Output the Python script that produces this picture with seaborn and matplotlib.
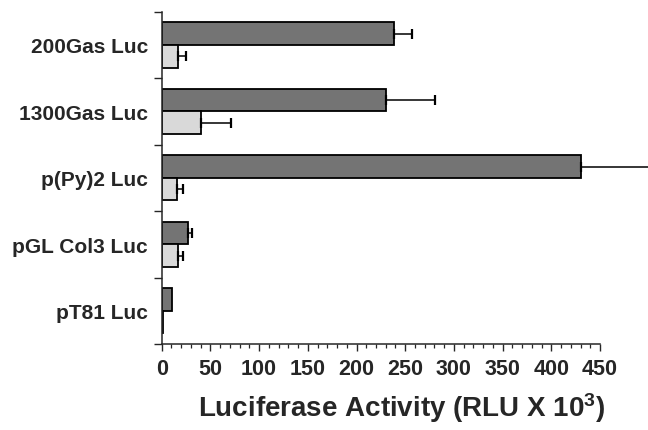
import numpy as np
import pandas as pd
import matplotlib
matplotlib.use("Agg")
import matplotlib.pyplot as plt
import seaborn as sns
from matplotlib.ticker import MultipleLocator

# ---- data ----
categories = ["200Gas Luc", "1300Gas Luc", "p(Py)2 Luc", "pGL Col3 Luc", "pT81 Luc"]
series_names = ["dark", "light"]
dark_vals = [239, 230, 430, 27, 11]
dark_err = [18, 51, 80, 4.5, 0]
light_vals = [17, 40, 16, 17, 1]
light_err = [7.5, 31, 6, 5, 0]
x_ticks = [0, 50, 100, 150, 200, 250, 300, 350, 400, 450]
x_label = "Luciferase Activity (RLU X 10$^{3}$)"

df = pd.DataFrame({
    "construct": categories * 2,
    "series": [series_names[0]] * len(categories) + [series_names[1]] * len(categories),
    "value": dark_vals + light_vals,
})

sns.set_style("ticks")
plt.rcParams["font.family"] = ["Liberation Sans", "DejaVu Sans"]
plt.rcParams["font.weight"] = "bold"
plt.rcParams["mathtext.fontset"] = "custom"
plt.rcParams["mathtext.rm"] = "Liberation Sans:bold"
plt.rcParams["mathtext.bf"] = "Liberation Sans:bold"
plt.rcParams["mathtext.it"] = "Liberation Sans:bold"

W, H = 648, 431
fig = plt.figure(figsize=(W / 100, H / 100), dpi=100)
left, right, top, bottom = 161.7, 600.0, 12.7, 345.0
ax = fig.add_axes([left / W, 1 - bottom / H, (right - left) / W, (bottom - top) / H])

sns.barplot(data=df, y="construct", x="value", hue="series", order=categories,
            hue_order=series_names, palette=["#747474", "#d9d9d9"], width=0.68,
            edgecolor="black", linewidth=1.3, errorbar=None, legend=False,
            orient="h", ax=ax)

# error bars (one-sided, to the right)
errs_all = [dark_err, light_err]
for cont, errs in zip(ax.containers, errs_all):
    xs, ys, es = [], [], []
    for bar, e in zip(cont.patches, errs):
        if e > 0:
            xs.append(bar.get_width())
            ys.append(bar.get_y() + bar.get_height() / 2)
            es.append(e)
    ax.errorbar(xs, ys, xerr=[np.zeros(len(es)), es], fmt="none", ecolor="black",
                elinewidth=1.1, capsize=3.5, capthick=1.6, clip_on=False, zorder=1)

ax.set_xlim(0, 450)
ax.set_ylim(len(categories) - 0.5, -0.5)
ax.set_xticks(x_ticks)
ax.set_xticklabels([str(t) for t in x_ticks], fontsize=15.5, fontweight="bold")
ax.xaxis.set_minor_locator(MultipleLocator(10))
ax.tick_params(axis="x", which="major", direction="out", length=5, width=1.0, pad=5)
ax.tick_params(axis="x", which="minor", direction="out", length=2.8, width=0.9)

ax.set_yticks(np.arange(-0.5, len(categories), 1.0))
ax.set_yticklabels([])
ax.set_yticks(np.arange(len(categories)), labels=categories, minor=True)
for t in ax.get_yticklabels(minor=True):
    t.set_fontsize(15)
    t.set_fontweight("bold")
ax.tick_params(axis="y", which="major", direction="out", length=6, width=1.0)
ax.tick_params(axis="y", which="minor", length=0, pad=10)

ax.set_ylabel("")
ax.set_xlabel(x_label, fontsize=20, fontweight="bold")
ax.xaxis.set_label_coords(0.548, -0.14)

sns.despine(ax=ax)
for s in ["left", "bottom"]:
    ax.spines[s].set_linewidth(1.1)

fig.savefig("out.png", dpi=100)
